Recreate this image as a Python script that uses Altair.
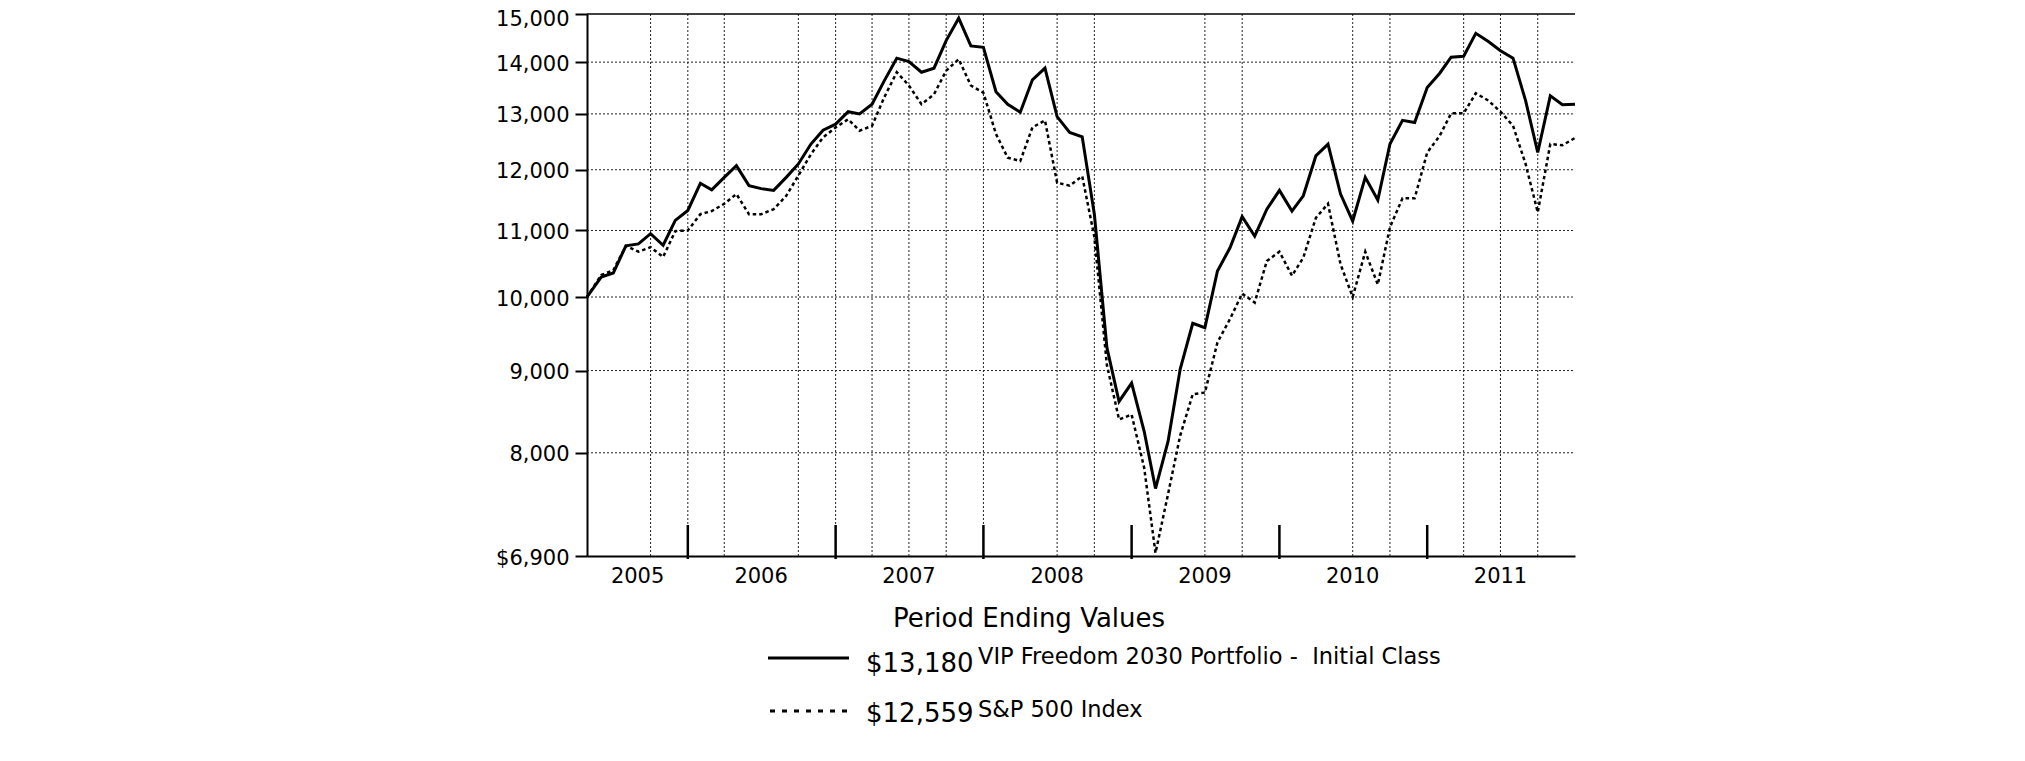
import altair as alt
import pandas as pd

# ---------------- data ----------------
start_date = "2005-04-26"
end_date = "2011-12-31"
month_ends = [d.strftime("%Y-%m-%d") for d in
              pd.date_range("2005-05-31", end_date, freq=pd.offsets.MonthEnd())]
dates = [start_date] + month_ends

vip_values = [
    10000, 10290, 10350, 10760, 10790, 10950, 10770, 11160, 11320,
    11770, 11660, 11870, 12070, 11730, 11680, 11650, 11870, 12100, 12450, 12700, 12810,
    13040, 13000, 13180, 13630, 14080, 14010, 13800, 13880, 14440, 14910, 14330, 14300,
    13420, 13180, 13030, 13650, 13880, 12950, 12660, 12580, 11260, 9300, 8610, 8840,
    8250, 7600, 8130, 9020, 9630, 9570, 10380, 10730, 11220, 10910, 11340, 11650,
    11310, 11560, 12240, 12450, 11590, 11150, 11870, 11490, 12450, 12880, 12840, 13500,
    13780, 14100, 14120, 14590, 14420, 14230, 14080, 13250, 12300, 13340, 13170, 13180,
]
sp_values = [
    10000, 10320, 10390, 10760, 10670, 10740, 10590, 10990, 11000,
    11260, 11310, 11430, 11590, 11260, 11260, 11340, 11560, 11900, 12270, 12570, 12750,
    12900, 12690, 12780, 13310, 13800, 13540, 13180, 13370, 13830, 14060, 13540, 13400,
    12630, 12210, 12150, 12750, 12880, 11780, 11730, 11890, 10900, 9070, 8390, 8450,
    7830, 6930, 7540, 8200, 8700, 8720, 9370, 9690, 10050, 9920, 10530, 10670,
    10310, 10580, 11200, 11430, 10480, 10000, 10670, 10180, 11050, 11520, 11520, 12300,
    12600, 13010, 13010, 13390, 13250, 13040, 12780, 12100, 11290, 12450, 12430, 12559,
]

series_names = ["VIP Freedom 2030 Portfolio -  Initial Class", "S&P 500 Index"]
ending_labels = ["$13,180", "$12,559"]
legend_title = "Period Ending Values"

y_tick_values = [6900, 8000, 9000, 10000, 11000, 12000, 13000, 14000, 15000]
y_tick_labels = ["$6,900", "8,000", "9,000", "10,000", "11,000", "12,000",
                 "13,000", "14,000", "15,000"]
h_grid_values = [8000, 9000, 10000, 11000, 12000, 13000, 14000]
top_value = [15000]

v_grid_dates = ["2005-09-30", "2005-12-31", "2006-03-31", "2006-09-30", "2006-12-31",
                "2007-03-31", "2007-06-30", "2007-09-30", "2007-12-31", "2008-06-30",
                "2008-09-30", "2009-06-30", "2009-09-30", "2010-06-30", "2010-09-30",
                "2011-03-31", "2011-06-30", "2011-09-30"]
year_tick_dates = ["2005-12-31", "2006-12-31", "2007-12-31", "2008-12-31",
                   "2009-12-31", "2010-12-31"]
year_label_dates = ["2005-08-29", "2006-06-30", "2007-06-30", "2008-06-30",
                    "2009-06-30", "2010-06-30", "2011-06-30"]
year_labels = ["2005", "2006", "2007", "2008", "2009", "2010", "2011"]

# ---------------- layout ----------------
W, H = 988, 542
FONT = "DejaVu Sans"


def ms(s):
    return int(pd.Timestamp(s, tz="UTC").value // 10**6)


xscale = alt.Scale(domain=[ms(start_date), ms(end_date)], nice=False)
yscale = alt.Scale(type="log", domain=[y_tick_values[0], y_tick_values[-1]], nice=False)

label_expr = " : ".join(
    f"round(datum.value) == {v} ? '{t}'" for v, t in zip(y_tick_values, y_tick_labels)
) + " : ''"

y_axis = alt.Axis(values=y_tick_values, labelExpr=label_expr, title=None, grid=False,
                  tickSize=12, tickWidth=2, tickColor="black", domainColor="black",
                  domainWidth=2, labelFont=FONT, labelFontSize=21, labelColor="black",
                  labelPadding=6,
                  labelOffset={"condition": {"test": f"round(datum.value) == {y_tick_values[-1]}",
                                             "value": 5}, "value": 2},
                  labelOverlap=False, labelFlush=False)
x_axis = alt.Axis(labels=False, ticks=False, grid=False, title=None, domainColor="black",
                  domainWidth=2)

X = lambda f: alt.X(f, scale=xscale, axis=x_axis)
Y = lambda f: alt.Y(f, scale=yscale, axis=y_axis)

one = pd.DataFrame({"k": [0]})

hgrid = alt.Chart(pd.DataFrame({"v": h_grid_values})).mark_rule(
    color="#222", strokeWidth=1, strokeDash=[2, 2]
).encode(y=Y("v:Q"), x=alt.value(0), x2=alt.value(W))

vgrid = alt.Chart(pd.DataFrame({"d": v_grid_dates})).mark_rule(
    color="#222", strokeWidth=1, strokeDash=[2, 2]
).encode(x=X("d:T"), y=alt.value(0), y2=alt.value(H))

top = alt.Chart(pd.DataFrame({"v": top_value})).mark_rule(
    color="black", strokeWidth=1.5
).encode(y=Y("v:Q"), x=alt.value(0), x2=alt.value(W))

sp_line = alt.Chart(pd.DataFrame({"date": dates, "value": sp_values})).mark_line(
    color="black", strokeWidth=2.5, strokeDash=[3.5, 3]
).encode(x=X("date:T"), y=Y("value:Q"))

vip_line = alt.Chart(pd.DataFrame({"date": dates, "value": vip_values})).mark_line(
    color="black", strokeWidth=3
).encode(x=X("date:T"), y=Y("value:Q"))

ticks = alt.Chart(pd.DataFrame({"d": year_tick_dates})).mark_rule(
    color="black", strokeWidth=2.5
).encode(x=X("d:T"), y=alt.value(H - 31), y2=alt.value(H + 3))

years = alt.Chart(pd.DataFrame({"d": year_label_dates, "t": year_labels})).mark_text(
    font=FONT, fontSize=21, color="black", baseline="alphabetic", align="center"
).encode(x=X("d:T"), y=alt.value(H + 27), text="t:N")


def txt(s, x, y, size, align="left"):
    return alt.Chart(one).mark_text(
        text=s, font=FONT, fontSize=size, color="black", baseline="alphabetic", align=align
    ).encode(x=alt.value(x), y=alt.value(y))


def sample(x1, x2, y, dash=None):
    kw = dict(color="black", strokeWidth=3)
    if dash:
        kw["strokeDash"] = dash
    return alt.Chart(one).mark_rule(**kw).encode(
        x=alt.value(x1), x2=alt.value(x2), y=alt.value(y))


legend = [
    txt(legend_title, 442, 613, 26, "center"),
    sample(181, 262, 644),
    txt(ending_labels[0], 279, 658, 26),
    txt(series_names[0].replace("  ", " \u00a0"), 391, 650, 22.5),
    sample(183, 262, 697, [5, 7]),
    txt(ending_labels[1], 279, 708, 26),
    txt(series_names[1], 391, 703, 22.5),
]

chart = alt.layer(hgrid, vgrid, top, sp_line, vip_line, ticks, years, *legend).properties(
    width=W, height=H,
    autosize=alt.AutoSizeParams(type="none"),
    padding={"left": 579, "top": 6, "right": 400, "bottom": 195},
).configure_view(stroke=None)

chart.save("out.html", embed_options={"renderer": "svg", "actions": False})
